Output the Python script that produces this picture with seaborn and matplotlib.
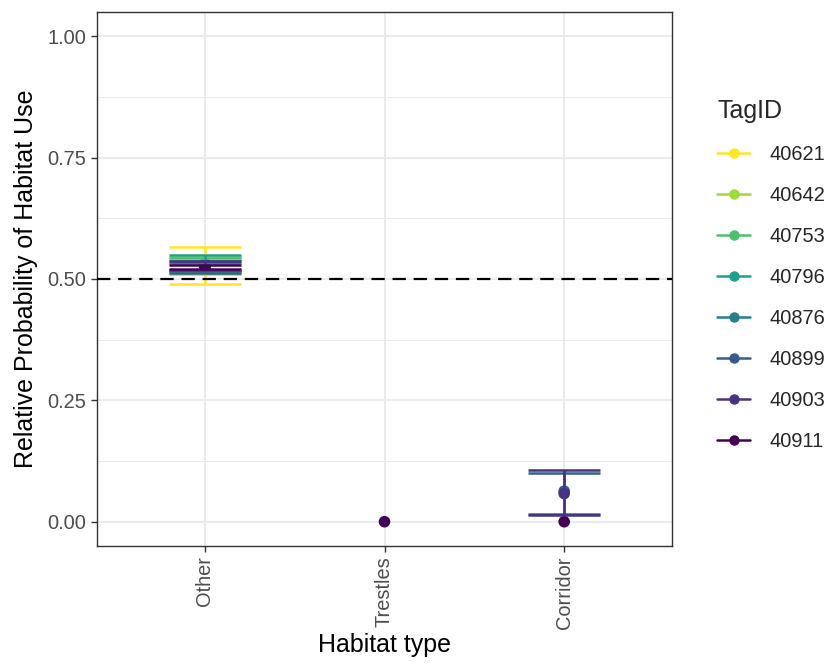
import numpy as np
import pandas as pd
import seaborn as sns
import matplotlib
matplotlib.use("Agg")
import matplotlib.pyplot as plt
from matplotlib.lines import Line2D

habitats = ["Other", "Trestles", "Corridor"]
tags = ["40621", "40642", "40753", "40796", "40876", "40899", "40903", "40911"]
colors = ["#FDE725", "#9FDA3A", "#4AC16D", "#1FA187", "#277F8E", "#365C8D", "#46337E", "#440154"]

# estimates per tag: (habitat, mean, lower, upper)
est_habitat = ["Other"] * 8 + ["Trestles", "Corridor", "Corridor", "Corridor"]
est_tag = tags + ["40911", "40899", "40903", "40911"]
est_mean = [0.528, 0.528, 0.528, 0.532, 0.525, 0.525, 0.524, 0.526, 0.0, 0.063, 0.058, 0.0]
est_lower = [0.490, 0.510, 0.514, 0.515, 0.518, 0.513, 0.519, 0.521, 0.0, 0.016, 0.013, 0.0]
est_upper = [0.566, 0.546, 0.543, 0.549, 0.532, 0.537, 0.537, 0.529, 0.0, 0.100, 0.106, 0.0]

df = pd.DataFrame({"habitat": est_habitat, "tag": est_tag, "mean": est_mean,
                   "lower": est_lower, "upper": est_upper})
df["x"] = df["habitat"].map({h: i for i, h in enumerate(habitats)})
df["tag"] = pd.Categorical(df["tag"], categories=tags, ordered=True)
df = df.sort_values("tag", kind="stable")

sns.set_theme(style="whitegrid")
plt.rcParams["font.family"] = ["Liberation Sans", "DejaVu Sans"]

fig = plt.figure(figsize=(8.27, 6.66), dpi=100)
ax = fig.add_axes([97/827, 1 - 546/666, (672-97)/827, (546-12)/666])

pal = dict(zip(tags, colors))

sns.scatterplot(data=df, x="x", y="mean", hue="tag", palette=pal, hue_order=tags,
                s=70, edgecolor="none", legend=False, ax=ax, zorder=3)

for _, r in df.iterrows():
    c = pal[r["tag"]]
    if r["upper"] > r["lower"]:
        ax.vlines(r["x"], r["lower"], r["upper"], color=c, lw=1.8, zorder=4)
        ax.hlines([r["lower"], r["upper"]], r["x"] - 0.2, r["x"] + 0.2, color=c, lw=1.8, zorder=4)

ax.axhline(0.5, color="black", lw=1.6, dashes=(6, 3.5), zorder=5)

ax.set_xlim(-0.6, 2.6)
ax.set_ylim(-0.05, 1.05)
ax.set_xticks(range(len(habitats)))
ax.set_xticklabels(habitats, rotation=90)
ax.set_yticks([0, 0.25, 0.5, 0.75, 1.0])
ax.set_yticklabels(["0.00", "0.25", "0.50", "0.75", "1.00"])
ax.set_yticks([0.125, 0.375, 0.625, 0.875], minor=True)
ax.grid(True, which="major", color="#EBEBEB", lw=1.4)
ax.grid(True, which="minor", axis="y", color="#EBEBEB", lw=0.7)
ax.set_axisbelow(True)
ax.tick_params(axis="both", which="major", length=4.5, width=1, color="#333333",
               labelsize=14.4, labelcolor="#4D4D4D", pad=3, left=True, bottom=True)
ax.tick_params(which="minor", length=0)
for s in ax.spines.values():
    s.set_color("#333333")
    s.set_linewidth(1.0)
ax.set_facecolor("white")
ax.set_xlabel("Habitat type", fontsize=18, color="black", labelpad=3)
ax.set_ylabel("Relative Probability of Habitat Use", fontsize=18, color="black", labelpad=7)

handles = [Line2D([0], [0], color=c, lw=1.8, marker="o", markersize=6.5) for c in colors]
leg = fig.legend(handles, tags, title="TagID", loc="upper left",
                 bbox_to_anchor=(711/827, 1 - 93/666), frameon=False,
                 fontsize=14.4, title_fontsize=18, labelspacing=1.1,
                 handlelength=1.65, handletextpad=1.0, alignment="left",
                 borderaxespad=0, borderpad=0.3)

fig.savefig("out.png", dpi=100)
